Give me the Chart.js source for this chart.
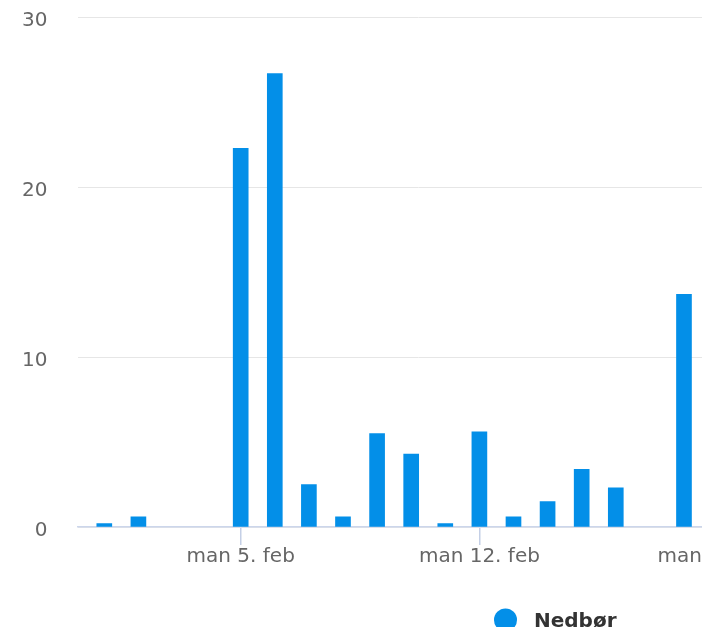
<!DOCTYPE html>
<html>
<head>
<meta charset="utf-8">
<script src="https://cdn.jsdelivr.net/npm/chart.js@4.4.1/dist/chart.umd.min.js"></script>
<style>
  html, body { margin: 0; padding: 0; overflow: hidden; background: #fff; }
  #wrap { width: 800px; height: 627px; }
</style>
</head>
<body>
<div id="wrap"><canvas id="myChart" width="800" height="627"></canvas></div>
<script>
// dager fra 1. feb (0 = tor 1. feb)
const dager = [0, 1, 2, 3, 4, 5, 6, 7, 8, 9, 10, 11, 12, 13, 14, 15, 16, 17]
// nedbør i mm
const nedbor = [0.2, 0.6, 0, 0, 22.3, 26.7, 2.5, 0.6, 5.5, 4.3, 0.2, 5.6, 0.6, 1.5, 3.4, 2.3, 0, 13.7]
// ticks på x-aksen (mandager)
const xTickDager = [4, 11, 18]
const xTickTekst = ["man 5. feb", "man 12. feb", "man 19. feb"]
const yTicks = [0, 10, 20, 30]

const blaa = "#038fe8"
const fontNavn = "'DejaVu Sans', Verdana, sans-serif"

// egen legend, plassert som i originalen
const minLegend = {
  id: "minLegend",
  afterDraw(chart) {
    const ctx = chart.ctx
    const ds = chart.data.datasets[0]
    ctx.save()
    ctx.fillStyle = ds.backgroundColor
    ctx.beginPath()
    ctx.arc(505.5, 620, 11.5, 0, Math.PI * 2)
    ctx.fill()
    ctx.fillStyle = "#333333"
    ctx.font = "bold 20px " + fontNavn
    ctx.textBaseline = "alphabetic"
    ctx.fillText(ds.label, 534, 627)
    ctx.restore()
  }
}

const nedborChart = new Chart("myChart", {
  type: "bar",
  data: {
    datasets: [{
      label: "Nedbør",
      backgroundColor: blaa,
      borderColor: blaa,
      borderWidth: 0,
      barThickness: 15,
      skipNull: true,
      // 0 mm gir ingen søyle
      data: dager.map((d, i) => ({ x: d, y: nedbor[i] === 0 ? null : nedbor[i] }))
    }]
  },
  options: {
    responsive: false,
    animation: false,
    layout: { padding: { top: 17.5, left: 0, right: 41, bottom: 0 } },
    plugins: {
      legend: { display: false },
      tooltip: { enabled: false }
    },
    scales: {
      x: {
        type: "linear",
        offset: false,
        min: -0.786,
        max: 19.2,
        afterBuildTicks(scale) {
          scale.ticks = xTickDager.map(v => ({ value: v }))
        },
        afterFit(scale) {
          scale.paddingLeft = 0
          scale.paddingRight = 0
          scale.height = 100
        },
        ticks: {
          autoSkip: false,
          maxRotation: 0,
          padding: 0,
          color: "#666666",
          font: { family: fontNavn, size: 20 },
          callback: function (v) {
            const i = xTickDager.indexOf(v)
            return i >= 0 ? xTickTekst[i] : ""
          }
        },
        grid: {
          offset: false,
          drawOnChartArea: false,
          color: "#c4cfe6",
          lineWidth: 1.5,
          tickLength: 18
        },
        border: { color: "#ccd6eb", width: 1.5 }
      },
      y: {
        min: 0,
        max: 30,
        afterBuildTicks(scale) {
          scale.ticks = yTicks.map(v => ({ value: v }))
        },
        afterFit(scale) {
          scale.width = 77.5
          scale.paddingTop = 0
          scale.paddingBottom = 0
        },
        ticks: {
          padding: 30,
          labelOffset: 3.5,
          color: "#666666",
          font: { family: fontNavn, size: 20 }
        },
        grid: {
          color: "#e6e6e6",
          drawTicks: false
        },
        border: { display: false }
      }
    }
  },
  plugins: [minLegend]
})
</script>
</body>
</html>
